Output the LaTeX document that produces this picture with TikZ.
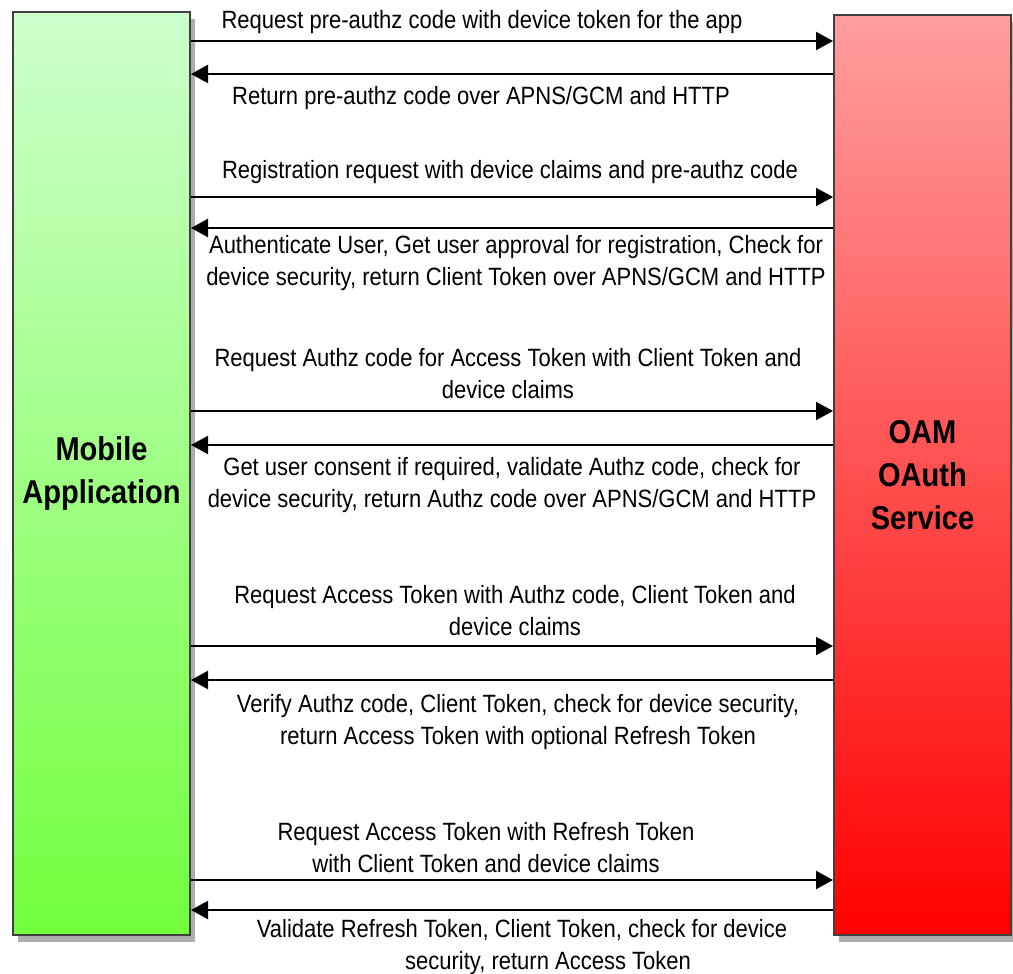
\documentclass[tikz,border=0pt]{standalone}
\usepackage{fontspec}
\setmainfont{Liberation Sans}[FakeStretch=0.88]
\usetikzlibrary{arrows.meta, shadows, positioning}

\begin{document}
\begin{tikzpicture}[x=0.5pt, y=-0.5pt,
        party/.style={draw=black!75, line width=1pt, minimum width=88.5pt, inner sep=0pt,
            align=center, font=\bfseries\fontsize{16.5}{21.5}\selectfont,
            drop shadow={shadow xshift=2.5pt, shadow yshift=-3.5pt, fill=black!32, opacity=1}},
        msg/.style={-{Triangle[length=8.5pt, width=9pt]}, line width=1.1pt},
        msglabel/.style={align=center, font=\fontsize{12.5}{16}\selectfont, inner sep=0pt}
    ]
        \useasboundingbox (0,0) rectangle (1013,974);

        % Parties
        \node[party, minimum height=461.5pt, top color=green!20!white, bottom color=green!50!lime!70!white!80!green]
            (app) at (101.5,473.5) {Mobile\\Application};
        \node[party, minimum height=460pt, top color=red!38!white, bottom color=red]
            (oam) at (922.5,475) {OAM\\OAuth\\Service};

        % Pre-authz code
        \draw[msg] (app.east |- 0,41) -- (oam.west |- 0,41);
        \node[msglabel] (m1) at (482,22) {Request pre-authz code with device token for the app};
        \draw[msg] (oam.west |- 0,74) -- (app.east |- 0,74);
        \node[msglabel] (m2) at (481,98) {Return pre-authz code over APNS/GCM and HTTP};

        % Registration
        \draw[msg] (app.east |- 0,197) -- (oam.west |- 0,197);
        \node[msglabel] (m3) at (510,172) {Registration request with device claims and pre-authz code};
        \draw[msg] (oam.west |- 0,228) -- (app.east |- 0,228);
        \node[msglabel] (m4) at (516,263) {Authenticate User, Get user approval for registration, Check for\\
            device security, return Client Token over APNS/GCM and HTTP};

        % Authz code
        \draw[msg] (app.east |- 0,411) -- (oam.west |- 0,411);
        \node[msglabel] (m5) at (508,374) {Request Authz code for Access Token with Client Token and\\
            device claims};
        \draw[msg] (oam.west |- 0,445) -- (app.east |- 0,445);
        \node[msglabel] (m6) at (512,485) {Get user consent if required, validate Authz code, check for\\
            device security, return Authz code over APNS/GCM and HTTP};

        % Access token
        \draw[msg] (app.east |- 0,646) -- (oam.west |- 0,646);
        \node[msglabel] (m7) at (515,611) {Request Access Token with Authz code, Client Token and\\
            device claims};
        \draw[msg] (oam.west |- 0,680) -- (app.east |- 0,680);
        \node[msglabel] (m8) at (518,722) {Verify Authz code, Client Token, check for device security,\\
            return Access Token with optional Refresh Token};

        % Refresh token
        \draw[msg] (app.east |- 0,880) -- (oam.west |- 0,880);
        \node[msglabel] (m9) at (486,848) {Request Access Token with Refresh Token\\
            with Client Token and device claims};
        \draw[msg] (oam.west |- 0,910) -- (app.east |- 0,910);
        \node[msglabel] (m10) at (522,947) {Validate Refresh Token, Client Token, check for device\\
            \hspace*{26pt}security, return Access Token};
    \end{tikzpicture}
\end{document}
